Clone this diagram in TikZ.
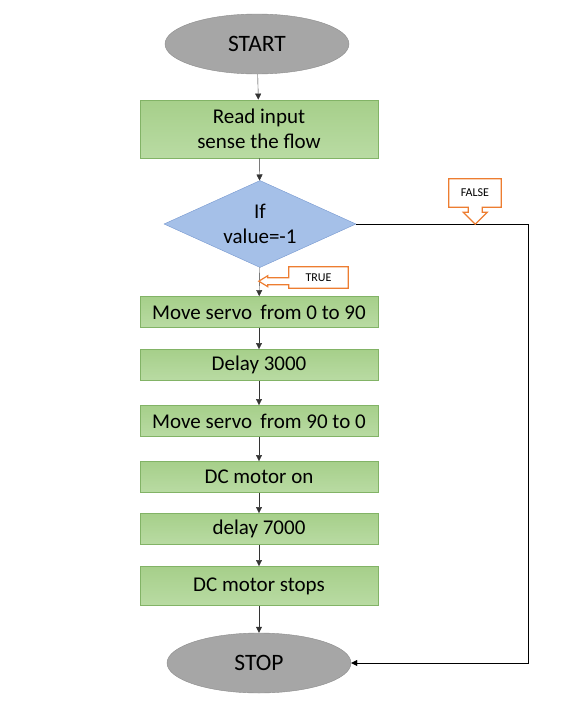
\documentclass[tikz,border=0pt]{standalone}
\usepackage{fontspec}
\setmainfont{Carlito}
\usetikzlibrary{shapes.geometric,arrows.meta}
\definecolor{termgray}{HTML}{A6A6A6}
\definecolor{termline}{HTML}{8C8C8C}
\definecolor{boxtop}{HTML}{A6CF8A}
\definecolor{boxbot}{HTML}{B9DBA3}
\definecolor{boxline}{HTML}{82B366}
\definecolor{ifblue}{HTML}{A5C0E8}
\definecolor{ifline}{HTML}{7597CF}
\definecolor{callorange}{HTML}{ED7D31}
\begin{document}
\begin{tikzpicture}[x=1pt,y=-1pt,
  term/.style={draw=termline, ellipse, fill=termgray, inner sep=0pt, minimum width=184pt, minimum height=60pt, font=\fontsize{23.5}{28}\selectfont},
  stepbox/.style={draw=boxline, line width=0.8pt, top color=boxtop, bottom color=boxbot, inner sep=0pt, minimum width=238pt, minimum height=31pt, align=center, font=\fontsize{21}{25}\selectfont},
  decide/.style={draw=ifline, diamond, aspect=2.2, fill=ifblue, inner sep=0pt, minimum width=192pt, minimum height=87pt, align=center, font=\fontsize{21}{25}\selectfont},
  flow/.style={draw=black!80, -{Triangle[width=6pt,length=6pt]}},
  calltext/.style={inner sep=0pt, font=\fontsize{12}{14}\selectfont}]
\useasboundingbox (0,0) rectangle (562,720);
\node[term] (1) at (257,44) {START};
\node[stepbox, minimum height=58pt] (2) at (259,129) {Read input\\sense the flow};
\node[decide] (3) at (260,224) {If\\value=-1};
\node[stepbox] (4) at (259,312) {Move servo\, from 0 to 90};
\node[stepbox] (5) at (259,365) {Delay 3000};
\node[stepbox] (6) at (259,421) {Move servo\, from 90 to 0};
\node[stepbox] (7) at (259,477) {DC motor on};
\node[stepbox] (8) at (259,529) {delay 7000};
\node[stepbox, minimum height=39pt] (9) at (259,586) {DC motor stops};
\node[term] (10) at (259,663) {STOP};
\coordinate (r) at (528,400);
\path[flow] (1) -- (2);
\path[flow] (2) -- (3);
\path[flow] (3) -- (4);
\path[flow] (4) -- (5);
\path[flow] (5) -- (6);
\path[flow] (6) -- (7);
\path[flow] (7) -- (8);
\path[flow] (8) -- (9);
\path[flow] (9) -- (10);
\path[flow, draw=black] (3.east) -- (3.east -| r) -- (10.east -| r) -- (10.east);
% callouts
\node[calltext, minimum width=52pt, minimum height=28pt] (f) at (475,193) {FALSE};
\draw[callorange, line width=1.2pt, fill=white] (f.north west) -- (f.north east) -- (f.south east) -- ++(-19,0) -- ++(0,5) -- ++(5,0) -- ++(-12,12) -- ++(-12,-12) -- ++(5,0) -- ++(0,-5) -- (f.south west) -- cycle;
\node[calltext, minimum width=52pt, minimum height=28pt] at (f) {FALSE};
\node[calltext, minimum width=59pt, minimum height=21pt] (t) at (318.5,277.5) {TRUE};
\draw[callorange, line width=1.2pt, fill=white] (t.north west) -- (t.north east) -- (t.south east) -- (t.south west) -- ++(0,-3.5) -- ++(-21,0) -- ++(0,2) -- ++(-9,-5.5) -- ++(9,-5.5) -- ++(0,2) -- ++(21,0) -- cycle;
\node[calltext, minimum width=59pt, minimum height=21pt] at (t) {TRUE};
\end{tikzpicture}
\end{document}
